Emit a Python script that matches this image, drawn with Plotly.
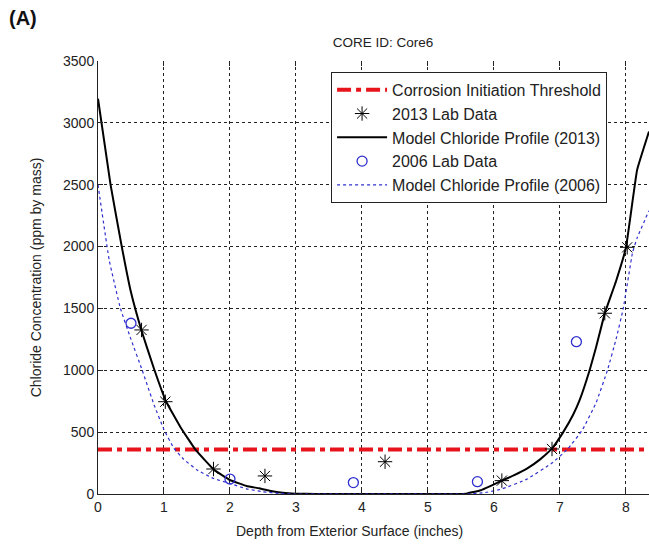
import plotly.graph_objects as go

# ---- data ----
threshold = 360
x_range_max = 8.35

lab2013_x = [0.66, 1.02, 1.75, 2.53, 4.35, 6.12, 6.88, 7.68, 8.02]
lab2013_y = [1326, 746, 202, 146, 261, 108, 364, 1461, 1994]

lab2006_x = [0.50, 2.00, 3.87, 5.75, 7.25]
lab2006_y = [1380, 121, 92, 100, 1231]

model2013_x = [0.0, 0.19, 0.36, 0.5, 0.66, 0.85, 1.03, 1.25, 1.48, 1.76, 2.0, 2.25, 2.44, 2.6,
               2.8, 3.0, 3.3, 5.4, 5.58, 5.8, 6.12, 6.3, 6.5, 6.7, 6.88, 7.05, 7.2, 7.3, 7.45,
               7.55, 7.68, 7.85, 8.0, 8.17, 8.35]
model2013_y = [3195, 2500, 2000, 1630, 1320, 1010, 750, 540, 356, 195, 113, 65, 46, 27,
               10, 3, 0, 0, 3, 30, 108, 150, 205, 280, 368, 500, 640, 760, 1000,
               1190, 1460, 1720, 1990, 2620, 2930]

model2006_x = [0.0, 0.17, 0.34, 0.5, 0.67, 0.85, 1.0, 1.15, 1.3, 1.5, 1.75, 2.0, 2.25, 2.5,
               2.75, 3.0, 5.6, 5.85, 6.12, 6.5, 6.88, 7.12, 7.34, 7.55, 7.72, 7.85, 7.96, 8.1,
               8.17, 8.35]
model2006_y = [2500, 1890, 1500, 1250, 1000, 720, 520, 370, 280, 195, 125, 85, 42, 18,
               5, 0, 0, 10, 40, 120, 250, 365, 517, 740, 1000, 1250, 1500, 1950,
               2070, 2290]

x_ticks = [0, 1, 2, 3, 4, 5, 6, 7, 8]
y_ticks = [0, 500, 1000, 1500, 2000, 2500, 3000, 3500]

FONT = "Liberation Sans, Arial, sans-serif"
BLUE = "#2f2fd0"

fig = go.Figure()
fig.add_trace(go.Scatter(
    x=[0, x_range_max], y=[threshold, threshold], mode="lines",
    line=dict(color="#e8141b", width=4, dash="14px,5px,5px,5px"),
    name="Corrosion Initiation Threshold", legendgroup="a"))
fig.add_trace(go.Scatter(
    x=lab2013_x, y=lab2013_y, mode="markers",
    marker=dict(symbol="asterisk-open", size=12, color="black", line=dict(color="black", width=1)),
    name="2013 Lab Data", legendgroup="b"))
fig.add_trace(go.Scatter(
    x=model2013_x, y=model2013_y, mode="lines",
    line=dict(color="black", width=2, shape="spline", smoothing=0.3),
    name="Model Chloride Profile (2013)", legendgroup="c"))
fig.add_trace(go.Scatter(
    x=lab2006_x, y=lab2006_y, mode="markers",
    marker=dict(symbol="circle-open", size=10, color=BLUE, line=dict(color=BLUE, width=1.3)),
    name="2006 Lab Data", legendgroup="d"))
fig.add_trace(go.Scatter(
    x=model2006_x, y=model2006_y, mode="lines",
    line=dict(color=BLUE, width=1.2, dash="3px,3px", shape="spline", smoothing=0.3),
    name="Model Chloride Profile (2006)", legendgroup="e"))

fig.update_layout(
    width=649, height=544,
    margin=dict(l=98, r=0, t=61, b=50),
    paper_bgcolor="white", plot_bgcolor="white",
    font=dict(family=FONT, size=14, color="#222"),
    title=dict(text="CORE ID: Core6", x=383 / 649, xanchor="center",
               y=1 - 42 / 544, yanchor="middle", font=dict(size=13.5, color="#222")),
    showlegend=True,
    legend=dict(x=0.423, y=0.975, xanchor="left", yanchor="top",
                bgcolor="white", bordercolor="#222", borderwidth=1,
                font=dict(size=16, color="#222"), tracegroupgap=0,
                itemwidth=50),
    xaxis=dict(range=[0, x_range_max], tickvals=x_ticks, ticks="inside", ticklen=5,
               tickcolor="#222", showline=True, linecolor="#222", linewidth=1,
               showgrid=True, gridcolor="#222", griddash="3px,3px", gridwidth=1,
               zeroline=False, tickfont=dict(size=14)),
    yaxis=dict(range=[0, 3500], tickvals=y_ticks, ticks="inside", ticklen=5,
               tickcolor="#222", showline=True, linecolor="#222", linewidth=1,
               showgrid=True, gridcolor="#222", griddash="3px,3px", gridwidth=1,
               zeroline=False, tickfont=dict(size=14),
               title=dict(text="Chloride Concentration (ppm by mass)",
                          standoff=18, font=dict(size=14))),
    xaxis2=dict(range=[0, x_range_max], tickvals=x_ticks, ticks="inside", ticklen=5,
                tickcolor="#222", showticklabels=False, showgrid=False, showline=False,
                overlaying="x", side="top", zeroline=False),
)
# invisible trace to activate top tick axis
fig.add_trace(go.Scatter(x=[0], y=[0], xaxis="x2", mode="markers",
                         marker=dict(opacity=0), showlegend=False, hoverinfo="skip"))

# x-axis title (placed as in the reference, slightly left of the plot centre)
fig.add_annotation(text="Depth from Exterior Surface (inches)", xref="paper", yref="paper",
                   x=(349 - 98) / 551, y=-(531 - 494) / 433, xanchor="center", yanchor="middle",
                   showarrow=False, font=dict(size=14, color="#222", family=FONT))

fig.add_annotation(text="<b>(A)</b>", xref="paper", yref="paper",
                   x=-98 / 551 + 7 / 551, y=1 + 43 / 433, xanchor="left", yanchor="middle",
                   showarrow=False, font=dict(size=20, color="#111", family=FONT))

fig.write_html("out.html")
